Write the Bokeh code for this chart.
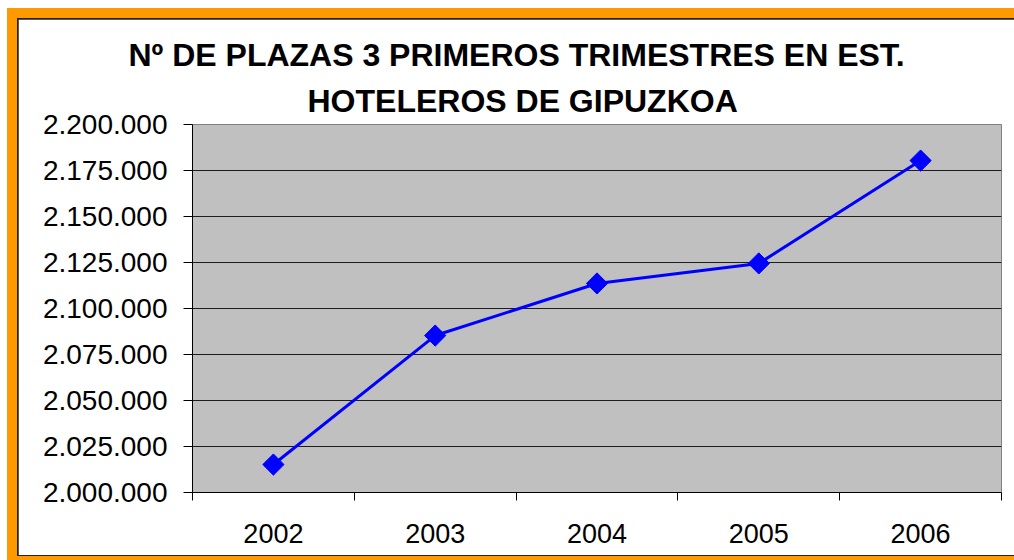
from bokeh.plotting import figure
from bokeh.models import FixedTicker, CustomJSTickFormatter, Range1d, Title, ColumnDataSource
from bokeh.layouts import column
from bokeh.embed import file_html
from bokeh.resources import INLINE
import math

# ---- data ----
years = ["2002", "2003", "2004", "2005", "2006"]
plazas = [2015200, 2085300, 2113600, 2124500, 2180400]
y_ticks = list(range(2000000, 2200001, 25000))
title_line1 = "Nº DE PLAZAS 3 PRIMEROS TRIMESTRES EN EST."
title_line2 = "HOTELEROS DE GIPUZKOA"

xpos = [i + 0.5 for i in range(len(years))]
src = ColumnDataSource(dict(x=xpos, y=plazas))

FONT = "Liberation Sans"

p = figure(width=996, height=536, output_backend="svg", toolbar_location=None,
           x_range=Range1d(0, len(years)), y_range=Range1d(y_ticks[0], y_ticks[-1]),
           min_border_left=174, min_border_right=13, min_border_bottom=63, min_border_top=105,
           title=None)

p.background_fill_color = "#C0C0C0"
p.border_fill_color = "white"
p.outline_line_color = "#808080"
p.outline_line_width = 1

# titles (added lower line first)
t2 = Title(text=title_line2, align="left", offset=115, text_font=FONT,
           text_font_size="32px", text_font_style="bold", text_color="black", standoff=11)
t1 = Title(text=title_line1, align="left", offset=-64, text_font=FONT,
           text_font_size="32px", text_font_style="bold", text_color="black", standoff=6)
p.add_layout(t2, "above")
p.add_layout(t1, "above")

p.line("x", "y", source=src, line_color="#0000FF", line_width=3)
p.scatter("x", "y", source=src, marker="square", size=15, angle=math.pi / 4,
          fill_color="#0000FF", line_color="#0000FF")

# y axis
p.yaxis.ticker = FixedTicker(ticks=y_ticks)
p.yaxis.formatter = CustomJSTickFormatter(code="""
return Math.round(tick).toString().replace(/\\B(?=(\\d{3})+(?!\\d))/g, ".");
""")
p.yaxis.major_tick_in = 0
p.yaxis.major_tick_out = 9
p.yaxis.minor_tick_in = 0
p.yaxis.minor_tick_out = 0
p.yaxis.major_label_standoff = 16
p.yaxis.major_label_text_font = FONT
p.yaxis.major_label_text_font_size = "28px"
p.yaxis.major_label_text_color = "black"
p.yaxis.axis_line_color = "black"
p.yaxis.major_tick_line_color = "black"

# x axis
p.xaxis.ticker = FixedTicker(ticks=xpos, minor_ticks=list(range(len(years) + 1)))
p.xaxis.major_label_overrides = {x: y for x, y in zip(xpos, years)}
p.xaxis.major_tick_in = 0
p.xaxis.major_tick_out = 0
p.xaxis.minor_tick_in = 0
p.xaxis.minor_tick_out = 8
p.xaxis.minor_tick_line_color = "black"
p.xaxis.major_label_standoff = 23
p.xaxis.major_label_text_font = FONT
p.xaxis.major_label_text_font_size = "27px"
p.xaxis.major_label_text_color = "black"
p.xaxis.axis_line_color = "black"

p.xgrid.grid_line_color = None
p.ygrid.ticker = FixedTicker(ticks=y_ticks)
p.ygrid.grid_line_color = "black"
p.ygrid.grid_line_alpha = 0.85

inner = column(p, styles={"background-color": "#222222", "padding": "1px 0px 1px 1px"})
frame = column(inner, styles={"background-color": "#FF9900", "padding": "10px 0px 4px 10px"})
page = column(frame, styles={"background-color": "white", "padding": "8px 0px 0px 7px"})

open("out.html", "w").write(file_html(page, INLINE))
